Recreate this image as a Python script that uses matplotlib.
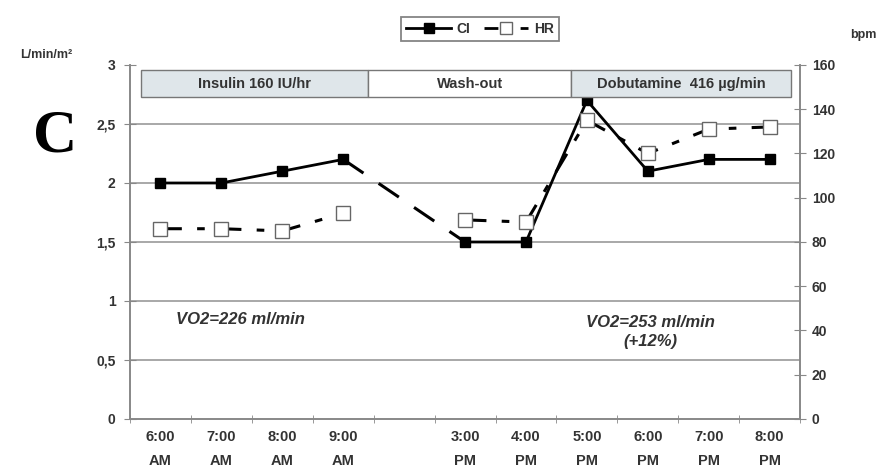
import numpy as np
import matplotlib.pyplot as plt
from matplotlib.patches import Rectangle
from matplotlib.lines import Line2D

plt.rcParams["font.family"] = ["Liberation Sans", "DejaVu Sans"]

# dados
horas = ["6:00\nAM", "7:00\nAM", "8:00\nAM", "9:00\nAM", "",
         "3:00\nPM", "4:00\nPM", "5:00\nPM", "6:00\nPM", "7:00\nPM", "8:00\nPM"]
ci_manha = [2.0, 2.0, 2.1, 2.2]
ci_tarde = [1.5, 1.5, 2.7, 2.1, 2.2, 2.2]
hr_manha = [86, 86, 85, 93]
hr_tarde = [90, 89, 135, 120, 131, 132]
fases = ["Insulin 160 IU/hr", "Wash-out", "Dobutamine  416 µg/min"]
fases_lim = [-0.32, 3.41, 6.74, 10.35]
fases_cor = ["#dfe6ea", "white", "#dfe6ea"]
y_ticks_esq = [0, 0.5, 1, 1.5, 2, 2.5, 3]
y_ticks_dir = [0, 20, 40, 60, 80, 100, 120, 140, 160]

x = np.arange(len(horas))
x_manha = x[:4]
x_tarde = x[5:]

cinza = "#888888"
txt = "#333333"
hr_ls = (0, (7, 5, 2.5, 5))

fig = plt.figure(figsize=(8.94, 4.72), dpi=100)
ax = fig.add_axes([0.1454, 0.1123, 0.7496, 0.75])
ax2 = ax.twinx()

ax.set_xlim(-0.5, 10.5)
ax.set_ylim(0, 3)
ax2.set_ylim(0, 160)

# grade
for v in y_ticks_esq[1:-1]:
    ax.axhline(v, color="#999999", lw=1.2, zorder=0)

ax.spines["top"].set_visible(False)
ax2.spines["top"].set_visible(False)
for a in (ax, ax2):
    for s in ["left", "right", "bottom"]:
        a.spines[s].set_color(cinza)
        a.spines[s].set_linewidth(1.2)

# CI
ax.plot(x_manha, ci_manha, color="black", lw=2, marker="s", ms=7, zorder=5)
ax.plot(x_tarde, ci_tarde, color="black", lw=2, marker="s", ms=7, zorder=5)
ax.plot([x_manha[-1], x_tarde[0]], [ci_manha[-1], ci_tarde[0]], color="black",
        lw=2.2, ls=(0, (8, 6)), zorder=5)

# HR
ax2.plot(x_manha, hr_manha, color="black", lw=2.2, ls=hr_ls,
         marker="s", ms=10, mfc="white", mec="#666666", zorder=4)
ax2.plot(x_tarde, hr_tarde, color="black", lw=2.2, ls=hr_ls,
         marker="s", ms=10, mfc="white", mec="#666666", zorder=4)

# faixas das fases
for i, nome in enumerate(fases):
    ax.add_patch(Rectangle((fases_lim[i], 2.73), fases_lim[i + 1] - fases_lim[i], 0.225,
                           facecolor=fases_cor[i], edgecolor="#777777", lw=1, zorder=6))
    ax.text((fases_lim[i] + fases_lim[i + 1]) / 2, 2.843, nome, ha="center", va="center",
            fontsize=10.5, fontweight="bold", color=txt, zorder=7)

# eixos
ax.set_xticks(x)
ax.set_xticklabels(horas, fontsize=10.5, fontweight="bold", color=txt, linespacing=1.9)
ax.tick_params(axis="x", length=0, pad=8)
ax.set_xticks(np.arange(-0.5, 11, 1), minor=True)
ax.tick_params(axis="x", which="minor", length=6, direction="inout", color=cinza)

ax.set_yticks(y_ticks_esq)
ax.set_yticklabels([str(v).replace(".", ",").replace(",0", "") if v != 0 else "0" for v in y_ticks_esq])
ax.tick_params(axis="y", direction="inout", length=9, color=cinza, labelsize=10,
               labelcolor=txt, pad=6)
for t in ax.get_yticklabels():
    t.set_fontweight("bold")

ax2.set_yticks(y_ticks_dir)
ax2.tick_params(axis="y", direction="inout", length=9, color=cinza, labelsize=10,
                labelcolor=txt, pad=4)
for t in ax2.get_yticklabels():
    t.set_fontweight("bold")

# textos
fig.text(0.022, 0.878, "L/min/m²", fontsize=9, fontweight="bold", color=txt)
fig.text(0.980, 0.920, "bpm", fontsize=9, fontweight="bold", color=txt, ha="right")
fig.text(0.062, 0.71, "C", fontsize=44, fontweight="bold", family="Liberation Serif",
         ha="center", va="center")
ax.text(0.25, 0.84, "VO2=226 ml/min", fontsize=12, fontweight="bold", style="italic",
        color=txt, va="center")
ax.text(8.05, 0.82, "VO2=253 ml/min", fontsize=12, fontweight="bold", style="italic",
        color=txt, ha="center", va="center")
ax.text(8.05, 0.66, "(+12%)", fontsize=12, fontweight="bold", style="italic",
        color=txt, ha="center", va="center")

# legenda
h_ci = Line2D([], [], color="black", lw=2, marker="s", ms=7)
h_hr = Line2D([], [], color="black", lw=2, ls=(0, (5, 3, 2, 3)), marker="s", ms=8,
              mfc="white", mec="#666666")
leg = fig.legend([h_ci, h_hr], ["CI", "HR"], loc="center", bbox_to_anchor=(0.537, 0.939),
                 ncol=2, fontsize=10, frameon=True, fancybox=False, handlelength=3.2,
                 columnspacing=1, borderpad=0.35, handletextpad=0.4)
leg.get_frame().set_edgecolor("#666666")
leg.get_frame().set_linewidth(1.3)
for t in leg.get_texts():
    t.set_fontweight("bold")
    t.set_color(txt)

fig.savefig("out.png", dpi=100)
plt.close()
